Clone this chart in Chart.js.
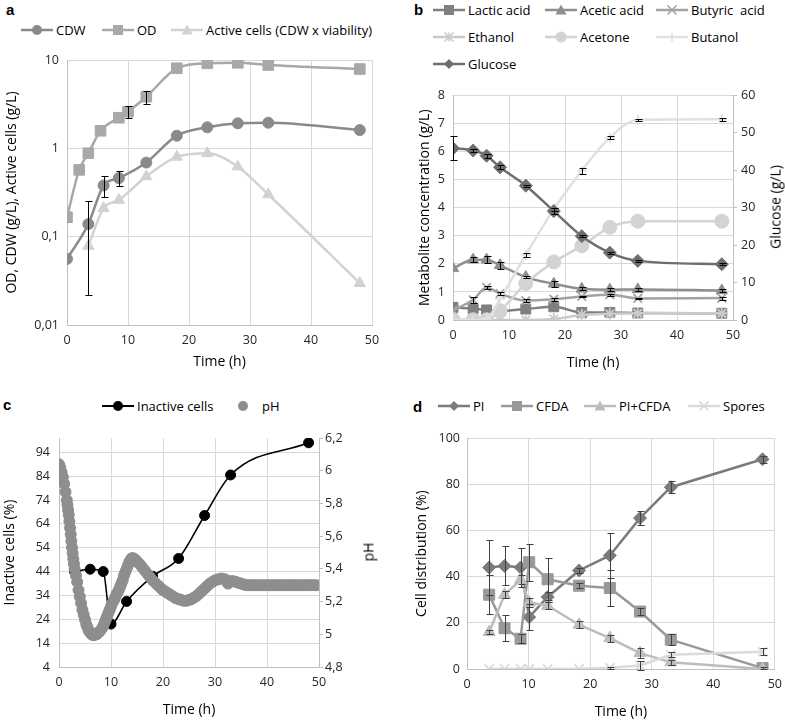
<!DOCTYPE html>
<html><head><meta charset="utf-8">
<script src="https://cdn.jsdelivr.net/npm/chart.js@4.4.1/dist/chart.umd.min.js"></script>
<style>
html,body{margin:0;padding:0;background:#fff;overflow:hidden;width:785px;height:720px;font-family:'Open Sans',sans-serif;}
.box{position:absolute;}
.plab{position:absolute;font:bold 15px 'Liberation Sans',Arial,sans-serif;line-height:15px;color:#000;}
.leg{position:absolute;font:13px 'Open Sans',sans-serif;color:#000;white-space:nowrap;display:flex;align-items:center;height:20px;line-height:20px;}
.leg svg{margin-right:3px;display:block;}
.rtitle{position:absolute;font:14px 'Open Sans',sans-serif;color:#000;white-space:nowrap;transform:translate(-50%,-50%) rotate(-90deg);line-height:17px;}
</style></head><body>
<div class="plab" style="left:6px;top:2px">a</div>
<div class="plab" style="left:414px;top:2px">b</div>
<div class="plab" style="left:3px;top:397px">c</div>
<div class="plab" style="left:413px;top:399px">d</div>
<div id="legends"></div>
<div class="box" style="left:0;top:40px"><canvas id="ca" width="392" height="335"></canvas></div>
<div class="box" style="left:395px;top:80px"><canvas id="cb" width="390" height="295"></canvas></div>
<div class="box" style="left:0;top:420px"><canvas id="cc" width="392" height="300"></canvas></div>
<div class="box" style="left:395px;top:420px"><canvas id="cd" width="395" height="300"></canvas></div>
<div class="rtitle" style="left:775px;top:207px">Glucose (g/L)</div>
<div class="rtitle" style="left:368px;top:552px">pH</div>
<script>
// ---------- Panel a ----------
const aTimeCDW = [0, 3.5, 6, 8.5, 13, 18, 23, 28, 33, 48];
const aCDW = [0.056, 0.139, 0.38, 0.46, 0.69, 1.39, 1.73, 1.92, 1.95, 1.61];
const aCDWErr = [0, 0.117, 0.1, 0.09, 0, 0, 0, 0, 0, 0];
const aTimeOD = [0, 2, 3.5, 5.5, 8.5, 10, 13, 18, 23, 28, 33, 48];
const aOD = [0.166, 0.57, 0.88, 1.58, 2.22, 2.6, 3.84, 8.06, 9.17, 9.3, 8.77, 7.9];
const aODErr = [0, 0, 0, 0, 0, 0.38, 0.63, 0, 0, 0, 0, 0];
const aTimeActive = [3.5, 6, 8.5, 13, 18, 23, 28, 33, 48];
const aActive = [0.0785, 0.21, 0.26, 0.48, 0.80, 0.88, 0.62, 0.30, 0.0297];
const aYTicks = [0.01, 0.1, 1, 10];

// ---------- Panel b ----------
const bTime = [0, 3.6, 6, 8.4, 13, 18, 23, 28, 33, 48];
const bLactic = [0.45, 0.40, 0.36, 0.32, 0.39, 0.47, 0.27, 0.27, 0.25, 0.24];
const bAcetic = [1.84, 2.15, 2.15, 1.95, 1.53, 1.29, 1.11, 1.08, 1.09, 1.05];
const bAceticErr = [0, 0.08, 0.12, 0.12, 0.05, 0.1, 0.05, 0.05, 0.05, 0.05];
const bButyric = [0.35, 0.72, 1.16, 0.94, 0.69, 0.74, 0.84, 0.90, 0.77, 0.78];
const bButyricErr = [0, 0.1, 0.05, 0.05, 0.05, 0.05, 0.03, 0.03, 0.03, 0.05];
const bEthanol = [0, 0, 0, 0, 0, 0.04, 0.18, 0.22, 0.24, 0.24];
const bAcetone = [0.01, 0.01, 0.01, 0.33, 1.30, 2.07, 2.64, 3.30, 3.52, 3.52];
const bButanol = [0, 0, 0.05, 0.75, 2.32, 3.95, 5.32, 6.50, 7.13, 7.15];
const bButanolErr = [0, 0, 0, 0, 0.08, 0.05, 0.1, 0.05, 0.05, 0.05];
const bGlucose = [45.9, 45.3, 43.9, 40.8, 35.9, 29.1, 22.4, 18.0, 15.8, 14.9];
const bGlucoseErr = [3.2, 0.5, 0.5, 0.5, 0.3, 0.8, 0.3, 0.3, 0.3, 0.3];
const bLeftTicks = [0, 1, 2, 3, 4, 5, 6, 7, 8];
const bRightTicks = [0, 10, 20, 30, 40, 50, 60];

// ---------- Panel c ----------
const cTimeInactive = [3, 6, 8.5, 10, 13, 18, 23, 28, 33, 48];
const cInactive = [44, 45, 44, 22, 31.5, 42, 49.5, 67.5, 84.5, 98];
const cPHTime = [0,0.25,0.5,0.75,1,1.25,1.5,1.625,1.75,1.875,2,2.125,2.25,2.375,2.5,2.625,2.75,2.875,3,3.25,3.5,3.75,4,4.25,4.5,4.75,5,5.25,5.5,5.75,6,6.25,6.5,6.75,7,7.25,7.5,7.75,8,8.25,8.5,8.75,9,9.25,9.5,9.75,10,10.25,10.5,10.75,11,11.25,11.5,11.75,12,12.25,12.5,12.75,13,13.25,13.5,13.75,14,14.25,14.5,14.75,15,15.5,16,16.5,17,17.5,18,18.5,19,19.5,20,20.5,21,21.5,22,22.5,23,23.5,24,24.5,25,25.5,26,26.5,27,27.5,28,28.5,29,29.5,30,30.5,31,31.5,32,32.5,33,33.5,34,34.5,35,35.5,36,36.5,37,37.5,38,38.5,39,39.5,40,40.5,41,41.5,42,42.5,43,43.5,44,44.5,45,45.5,46,46.5,47,47.5,48,48.5,49,49.5];
const cPH = [6.04,6.02,5.99,5.96,5.92,5.87,5.82,5.79,5.76,5.73,5.69,5.65,5.61,5.57,5.53,5.495,5.46,5.43,5.40,5.36,5.32,5.27,5.23,5.19,5.15,5.12,5.09,5.06,5.04,5.02,5.01,5.00,4.995,4.995,5.00,5.00,5.01,5.015,5.025,5.035,5.05,5.07,5.09,5.11,5.13,5.15,5.17,5.19,5.205,5.22,5.24,5.255,5.27,5.29,5.31,5.33,5.36,5.38,5.40,5.42,5.44,5.455,5.465,5.465,5.46,5.455,5.445,5.43,5.41,5.39,5.37,5.35,5.33,5.315,5.30,5.285,5.27,5.26,5.25,5.24,5.23,5.22,5.215,5.21,5.205,5.205,5.21,5.215,5.225,5.235,5.25,5.265,5.28,5.295,5.31,5.32,5.33,5.335,5.34,5.34,5.335,5.31,5.325,5.325,5.32,5.315,5.31,5.305,5.30,5.30,5.30,5.30,5.30,5.30,5.30,5.30,5.30,5.30,5.30,5.30,5.30,5.30,5.30,5.30,5.30,5.30,5.30,5.30,5.30,5.30,5.30,5.30,5.30,5.30,5.30,5.30];
const cLeftTicks = [4, 14, 24, 34, 44, 54, 64, 74, 84, 94];
const cRightTicks = [4.8, 5, 5.2, 5.4, 5.6, 5.8, 6, 6.2];

// ---------- Panel d ----------
const dTime = [3.6, 6.1, 8.7, 10.1, 13.1, 18.2, 23.2, 28.1, 33.1, 48];
const dPI = [44, 44.7, 44, 22.5, 31.2, 42.7, 49.2, 65.4, 78.8, 90.9];
const dPIErr = [12, 8.5, 8.5, 5.5, 2, 1, 9.7, 3, 2.5, 1.5];
const dCFDA = [32.2, 17.7, 13.1, 46.3, 38.9, 36.1, 35.1, 24.9, 12.7, 0.4];
const dCFDAErr = [8.5, 5.5, 2, 8, 9, 1, 7.8, 1.5, 2.5, 0.5];
const dPICFDA = [16, 32.2, 38.7, 28.8, 27.4, 19.2, 13.4, 6.9, 2.9, 0];
const dPICFDAErr = [1, 1.5, 2, 2, 1.5, 1.5, 1.5, 2, 1, 0];
const dSpores = [0, 0, 0, 0, 0, 0, 0.5, 1.5, 6.2, 7.5];
const dSporesErr = [0, 0, 0, 0, 0, 0, 0.5, 2, 1, 1.5];
const dYTicks = [0, 20, 40, 60, 80, 100];

const xTicks = [0, 10, 20, 30, 40, 50];

// ---------- helpers ----------
const GRID = '#d9d9d9', AXIS = '#bfbfbf', TICK = '#262626';
const pts = (xs, ys) => xs.map((x, i) => ({x: x, y: ys[i]}));
const comma = v => String(+v.toFixed(4)).replace('.', ',');
Chart.defaults.font.family = "'Open Sans', sans-serif";
Chart.defaults.font.size = 12.5;
Chart.defaults.color = TICK;
Chart.defaults.animation = false;

const errorBarPlugin = {
  id: 'errorBars',
  afterDatasetsDraw(chart) {
    const ctx = chart.ctx;
    chart.data.datasets.forEach((ds) => {
      if (!ds.errors) return;
      const ys = chart.scales[ds.yAxisID || 'y'], xs = chart.scales.x;
      ctx.save();
      ctx.strokeStyle = ds.errorColor || '#000';
      ctx.lineWidth = 1;
      ds.data.forEach((p, j) => {
        const e = ds.errors[j]; if (!e) return;
        const px = Math.round(xs.getPixelForValue(p.x)) + 0.5;
        let lowV = p.y - e;
        if (ys.type === 'logarithmic' && lowV <= 0) lowV = ys.min;
        const top = Math.round(ys.getPixelForValue(p.y + e)) + 0.5;
        const bot = Math.round(ys.getPixelForValue(lowV)) + 0.5;
        ctx.beginPath();
        ctx.moveTo(px, top); ctx.lineTo(px, bot);
        ctx.moveTo(px - 3, top); ctx.lineTo(px + 4, top);
        ctx.moveTo(px - 3, bot); ctx.lineTo(px + 4, bot);
        ctx.stroke();
      });
      ctx.restore();
    });
  }
};

function xScale(h, titlePad, tickPad) {
  return {
    type: 'linear', min: 0, max: 50,
    afterBuildTicks: s => { s.ticks = xTicks.map(v => ({value: v})); },
    afterFit: s => { s.height = h; },
    grid: {color: GRID, drawTicks: false},
    border: {color: AXIS},
    ticks: {padding: tickPad, color: TICK, font: {size: 12.5}},
    title: {display: true, text: 'Time (h)', color: '#000', font: {size: 14}, padding: {top: 0, bottom: titlePad}}
  };
}
function yScale(o) {
  return Object.assign({
    position: o.pos || 'left',
    min: o.min, max: o.max,
    afterBuildTicks: s => { s.ticks = o.ticks.map(v => ({value: v})); },
    afterFit: s => { s.width = o.w; },
    grid: o.right ? {drawOnChartArea: false, drawTicks: true, tickLength: 4, color: AXIS} : {color: GRID, drawTicks: false},
    border: {color: AXIS},
    ticks: {padding: o.tp, color: TICK, font: {size: 12.5}, callback: v => comma(v)},
    title: {display: !!o.title, text: o.title || '', color: '#000', font: {size: 14}, padding: {top: o.titlePad || 0, bottom: 0}}
  }, o.type ? {type: o.type} : {type: 'linear'});
}
function lineDs(label, data, color, style, r, extra) {
  return Object.assign({
    label: label, data: data, borderColor: color, backgroundColor: color,
    pointStyle: style, pointRadius: r, pointBorderColor: color, pointBackgroundColor: color,
    pointBorderWidth: (style === 'crossRot' || style === 'cross' || style === 'star') ? 1.8 : 1,
    borderWidth: 2.5, cubicInterpolationMode: 'monotone', tension: 0.4, fill: false
  }, extra || {});
}
function baseOpts(padding, scales) {
  return {
    responsive: false, devicePixelRatio: 1, animation: false,
    layout: {padding: padding},
    plugins: {legend: {display: false}, tooltip: {enabled: false}},
    scales: scales
  };
}

// ---------- legends ----------
function svgIcon(o) {
  const w = 32, h = 16, cx = 16, cy = 8, c = o.color, r = o.r || 5;
  let s = `<svg width="${w}" height="${h}" viewBox="0 0 ${w} ${h}">`;
  if (o.line !== false) s += `<line x1="0" y1="${cy}" x2="${w}" y2="${cy}" stroke="${c}" stroke-width="${o.lw || 2.5}"/>`;
  switch (o.shape) {
    case 'circle': s += `<circle cx="${cx}" cy="${cy}" r="${r}" fill="${c}"/>`; break;
    case 'rect': s += `<rect x="${cx - r}" y="${cy - r}" width="${2 * r}" height="${2 * r}" fill="${c}"/>`; break;
    case 'triangle': s += `<polygon points="${cx},${cy - r} ${cx + r},${cy + r * 0.8} ${cx - r},${cy + r * 0.8}" fill="${c}"/>`; break;
    case 'rectRot': s += `<polygon points="${cx},${cy - r} ${cx + r},${cy} ${cx},${cy + r} ${cx - r},${cy}" fill="${c}"/>`; break;
    case 'crossRot': s += `<path d="M${cx - r} ${cy - r}L${cx + r} ${cy + r}M${cx + r} ${cy - r}L${cx - r} ${cy + r}" stroke="${c}" stroke-width="1.6"/>`; break;
    case 'cross': s += `<path d="M${cx - r} ${cy}L${cx + r} ${cy}M${cx} ${cy - r}L${cx} ${cy + r}" stroke="${c}" stroke-width="1.6"/>`; break;
    case 'star': s += `<path d="M${cx - r} ${cy - r}L${cx + r} ${cy + r}M${cx + r} ${cy - r}L${cx - r} ${cy + r}M${cx} ${cy - r}L${cx} ${cy + r}" stroke="${c}" stroke-width="1.6"/>`; break;
  }
  return s + '</svg>';
}
const legendItems = [];
function addLegend(x, y, text, icon) { legendItems.push({x, y, text, icon}); }

// ---------- colors ----------
const aCol = {cdw: '#8a8a8a', od: '#a8a8a8', act: '#d2d2d2'};
const bCol = {lac: '#7f7f7f', ace: '#8e8e8e', but: '#a3a3a3', eth: '#cbcbcb', acn: '#d3d3d3', bol: '#e0e0e0', glu: '#6e6e6e'};
const cCol = {ina: '#000000', ph: '#8e8e8e'};
const dCol = {pi: '#7b7b7b', cfda: '#999999', picfda: '#bdbdbd', spo: '#dadada'};

// ---------- Chart a ----------
new Chart(document.getElementById('ca'), {
  type: 'line',
  data: {datasets: [
    lineDs('CDW', pts(aTimeCDW, aCDW), aCol.cdw, 'circle', 5.5, {errors: aCDWErr, order: 3}),
    lineDs('OD', pts(aTimeOD, aOD), aCol.od, 'rect', 7.5, {errors: aODErr, order: 2}),
    lineDs('Active cells (CDW x viability)', pts(aTimeActive, aActive), aCol.act, 'triangle', 6.5, {order: 1})
  ]},
  options: baseOpts({left: 0, top: 20, right: 20, bottom: 0}, {
    x: xScale(50, 4.6, 8),
    y: yScale({type: 'logarithmic', min: 0.01, max: 10, ticks: aYTicks, w: 67, tp: 8, title: 'OD, CDW (g/L), Active cells (g/L)', titlePad: 3.6})
  }),
  plugins: [errorBarPlugin]
});
addLegend(21, 30, 'CDW', svgIcon({color: aCol.cdw, shape: 'circle', r: 5}));
addLegend(102, 30, 'OD', svgIcon({color: aCol.od, shape: 'rect', r: 5}));
addLegend(171, 30, 'Active cells (CDW x viability)', svgIcon({color: aCol.act, shape: 'triangle', r: 5.5}));

// ---------- Chart b ----------
new Chart(document.getElementById('cb'), {
  type: 'line',
  data: {datasets: [
    lineDs('Lactic acid', pts(bTime, bLactic), bCol.lac, 'rect', 7, {order: 7}),
    lineDs('Acetic acid', pts(bTime, bAcetic), bCol.ace, 'triangle', 6.5, {errors: bAceticErr, order: 6}),
    lineDs('Butyric  acid', pts(bTime, bButyric), bCol.but, 'crossRot', 6, {errors: bButyricErr, order: 5}),
    lineDs('Ethanol', pts(bTime, bEthanol), bCol.eth, 'star', 6, {order: 4}),
    lineDs('Acetone', pts(bTime, bAcetone), bCol.acn, 'circle', 7, {order: 3}),
    lineDs('Butanol', pts(bTime, bButanol), bCol.bol, 'cross', 5, {errors: bButanolErr, order: 2}),
    lineDs('Glucose', pts(bTime, bGlucose), bCol.glu, 'rectRot', 6.5, {errors: bGlucoseErr, yAxisID: 'y2', order: 1})
  ]},
  options: baseOpts({left: 0, top: 14.3, right: 0, bottom: 0}, {
    x: xScale(55, 3.6, 8),
    y: yScale({min: 0, max: 8, ticks: bLeftTicks, w: 58, tp: 8, title: 'Metabolite concentration (g/L)', titlePad: 21.6}),
    y2: yScale({pos: 'right', right: true, min: 0, max: 60, ticks: bRightTicks, w: 52, tp: 4})
  }),
  plugins: [errorBarPlugin]
});
addLegend(433, 10, 'Lactic acid', svgIcon({color: bCol.lac, shape: 'rect', r: 5}));
addLegend(545, 10, 'Acetic acid', svgIcon({color: bCol.ace, shape: 'triangle', r: 5.5}));
addLegend(656, 10, 'Butyric\u00a0 acid', svgIcon({color: bCol.but, shape: 'crossRot', r: 4.5}));
addLegend(433, 37, 'Ethanol', svgIcon({color: bCol.eth, shape: 'star', r: 4.5}));
addLegend(545, 37, 'Acetone', svgIcon({color: bCol.acn, shape: 'circle', r: 5.5}));
addLegend(656, 37, 'Butanol', svgIcon({color: bCol.bol, shape: 'cross', r: 4.5}));
addLegend(433, 64, 'Glucose', svgIcon({color: bCol.glu, shape: 'rectRot', r: 5}));

// ---------- Chart c ----------
new Chart(document.getElementById('cc'), {
  type: 'line',
  data: {datasets: [
    {label: 'pH', data: pts(cPHTime, cPH), yAxisID: 'y2', showLine: false,
     pointStyle: 'circle', pointRadius: 5.5, pointBackgroundColor: cCol.ph, pointBorderColor: cCol.ph,
     backgroundColor: cCol.ph, borderColor: cCol.ph, order: 1},
    lineDs('Inactive cells', pts(cTimeInactive, cInactive), cCol.ina, 'circle', 5, {borderWidth: 1.6, order: 2})
  ]},
  options: baseOpts({left: 0, top: 18, right: 0, bottom: 0}, {
    x: xScale(53, 1.6, 8),
    y: yScale({min: 4, max: 100, ticks: cLeftTicks, w: 59, tp: 9, title: 'Inactive cells (%)', titlePad: 1.6}),
    y2: yScale({pos: 'right', right: true, min: 4.8, max: 6.2, ticks: cRightTicks, w: 73, tp: 2})
  })
});
addLegend(102, 406, 'Inactive cells', svgIcon({color: '#000', shape: 'circle', r: 5, lw: 2}));
addLegend(227, 406, 'pH', svgIcon({color: cCol.ph, shape: 'circle', r: 5, line: false}));

// ---------- Chart d ----------
new Chart(document.getElementById('cd'), {
  type: 'line',
  data: {datasets: [
    lineDs('PI', pts(dTime, dPI), dCol.pi, 'rectRot', 6.5, {errors: dPIErr, errorColor: '#404040', tension: 0, cubicInterpolationMode: 'default', order: 4}),
    lineDs('CFDA', pts(dTime, dCFDA), dCol.cfda, 'rect', 7.8, {errors: dCFDAErr, errorColor: '#404040', tension: 0, cubicInterpolationMode: 'default', order: 3}),
    lineDs('PI+CFDA', pts(dTime, dPICFDA), dCol.picfda, 'triangle', 7, {errors: dPICFDAErr, errorColor: '#404040', tension: 0, cubicInterpolationMode: 'default', order: 2}),
    lineDs('Spores', pts(dTime, dSpores), dCol.spo, 'crossRot', 6.5, {errors: dSporesErr, errorColor: '#404040', tension: 0, cubicInterpolationMode: 'default', order: 1})
  ]},
  options: baseOpts({left: 0, top: 18.3, right: 12, bottom: 0}, {
    x: xScale(51, 0, 8),
    y: yScale({min: 0, max: 100, ticks: dYTicks, w: 72, tp: 7, title: 'Cell distribution (%)', titlePad: 18.6})
  }),
  plugins: [errorBarPlugin]
});
addLegend(438, 406, 'PI', svgIcon({color: dCol.pi, shape: 'rectRot', r: 5}));
addLegend(501, 406, 'CFDA', svgIcon({color: dCol.cfda, shape: 'rect', r: 5}));
addLegend(584, 406, 'PI+CFDA', svgIcon({color: dCol.picfda, shape: 'triangle', r: 5.5}));
addLegend(688, 406, 'Spores', svgIcon({color: dCol.spo, shape: 'crossRot', r: 4.5}));

// render legends
const lg = document.getElementById('legends');
legendItems.forEach(it => {
  const d = document.createElement('div');
  d.className = 'leg';
  d.style.left = it.x + 'px';
  d.style.top = (it.y - 10) + 'px';
  d.innerHTML = it.icon + '<span>' + it.text + '</span>';
  lg.appendChild(d);
});
</script>
</body></html>
